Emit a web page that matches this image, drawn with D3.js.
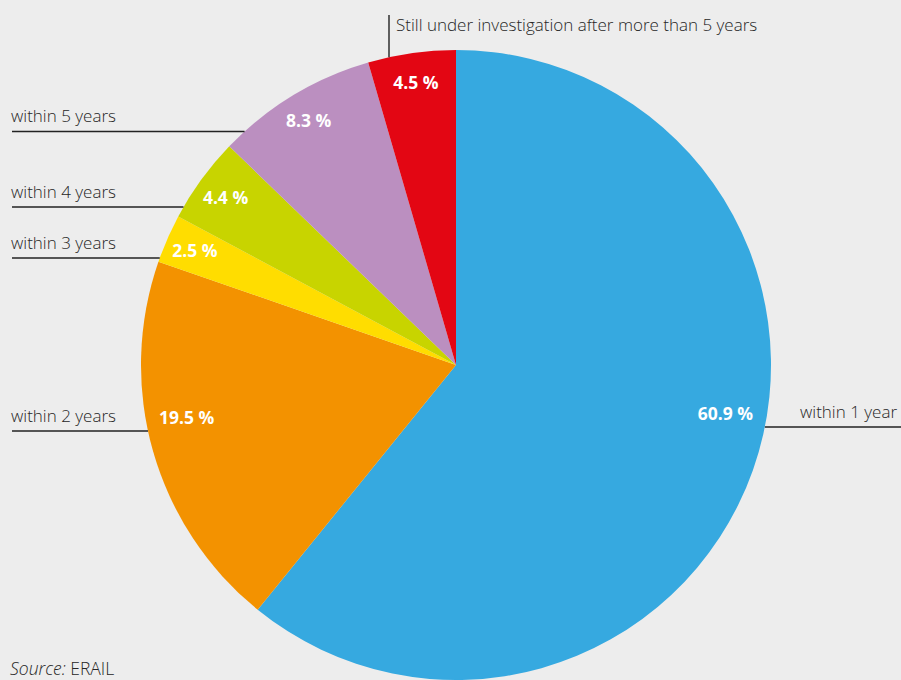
<!DOCTYPE html>
<html>
<head>
<meta charset="utf-8">
<script src="https://cdn.jsdelivr.net/npm/d3@7"></script>
<style>
  html, body { margin: 0; padding: 0; background: #ededed; }
  svg { display: block; }
  .cat { font-family: "Open Sans", "Noto Sans", sans-serif; font-size: 17px; font-weight: 300; fill: #262626; }
  .pct { font-family: "Open Sans", "Noto Sans", sans-serif; font-size: 17.5px; font-weight: 700; fill: #ffffff; }
</style>
</head>
<body>
<script>
// Share of investigations by time to completion (percent)
const categories = [
  "within 1 year",
  "within 2 years",
  "within 3 years",
  "within 4 years",
  "within 5 years",
  "Still under investigation after more than 5 years"
];
const shares = [60.9, 19.5, 2.5, 4.4, 8.3, 4.5];
const colors = ["#36a9e0", "#f39200", "#ffdd00", "#c8d400", "#bb8fc0", "#e30613"];

// Callout layout: which side each caption sits on and the height of its leader line
const calloutSide = ["right", "left", "left", "left", "left", "top"];
const calloutY = [427, 431, 258, 207, 131.5, 15];

const width = 901, height = 680;
const cx = 456, cy = 365, R = 315;

const svg = d3.select("body").append("svg")
  .attr("width", width).attr("height", height);

svg.append("rect").attr("width", width).attr("height", height).attr("fill", "#ededed");

const data = categories.map((c, i) => ({ category: c, value: shares[i], color: colors[i],
  side: calloutSide[i], ly: calloutY[i] }));

const pie = d3.pie().sort(null).value(d => d.value);
const arcs = pie(data);
const arc = d3.arc().innerRadius(0).outerRadius(R);
const labelArc = d3.arc().innerRadius(0.905 * R).outerRadius(0.905 * R);

const g = svg.append("g").attr("transform", `translate(${cx},${cy})`);

g.selectAll("path.slice").data(arcs).join("path")
  .attr("class", "slice")
  .attr("d", arc)
  .attr("fill", d => d.data.color);

// Percentage labels: small slices sit on their mid-angle, large ones beside their leader line
const fmt = d3.format(".1f");
g.selectAll("text.pct").data(arcs).join("text")
  .attr("class", "pct")
  .attr("text-anchor", "middle")
  .attr("dy", "0.36em")
  .attr("x", d => {
    if (d.data.value > 15) return (d.data.side === "right" ? 1 : -1) * 0.855 * R;
    return labelArc.centroid(d)[0];
  })
  .attr("y", d => {
    if (d.data.value > 15) return d.data.ly - cy - 13;
    return labelArc.centroid(d)[1];
  })
  .text(d => fmt(d.data.value) + " %");

// Leader lines and captions
const lines = svg.append("g").attr("stroke", "#222").attr("stroke-width", 1.4);
const captions = svg.append("g");

data.forEach(d => {
  if (d.side === "left" || d.side === "right") {
    const dx = Math.sqrt(R * R - (d.ly - cy) * (d.ly - cy));
    const edge = d.side === "left" ? cx - dx : cx + dx;
    lines.append("line")
      .attr("x1", d.side === "left" ? 12 : edge)
      .attr("x2", d.side === "left" ? edge : width)
      .attr("y1", d.ly).attr("y2", d.ly);
    captions.append("text").attr("class", "cat")
      .attr("x", d.side === "left" ? 11 : 800)
      .attr("y", d.ly - 9.5)
      .text(d.category);
  } else {
    const lx = 389;
    const edgeY = cy - Math.sqrt(R * R - (lx - cx) * (lx - cx));
    lines.append("line")
      .attr("x1", lx).attr("x2", lx)
      .attr("y1", d.ly).attr("y2", edgeY);
    captions.append("text").attr("class", "cat")
      .attr("x", lx + 7)
      .attr("y", d.ly + 16)
      .text(d.category);
  }
});

// Source note
const src = svg.append("text").attr("class", "cat")
  .attr("x", 10).attr("y", 675).style("font-size", "17.5px");
src.append("tspan").style("font-style", "italic").text("Source:");
src.append("tspan").text(" ERAIL");
</script>
</body>
</html>
